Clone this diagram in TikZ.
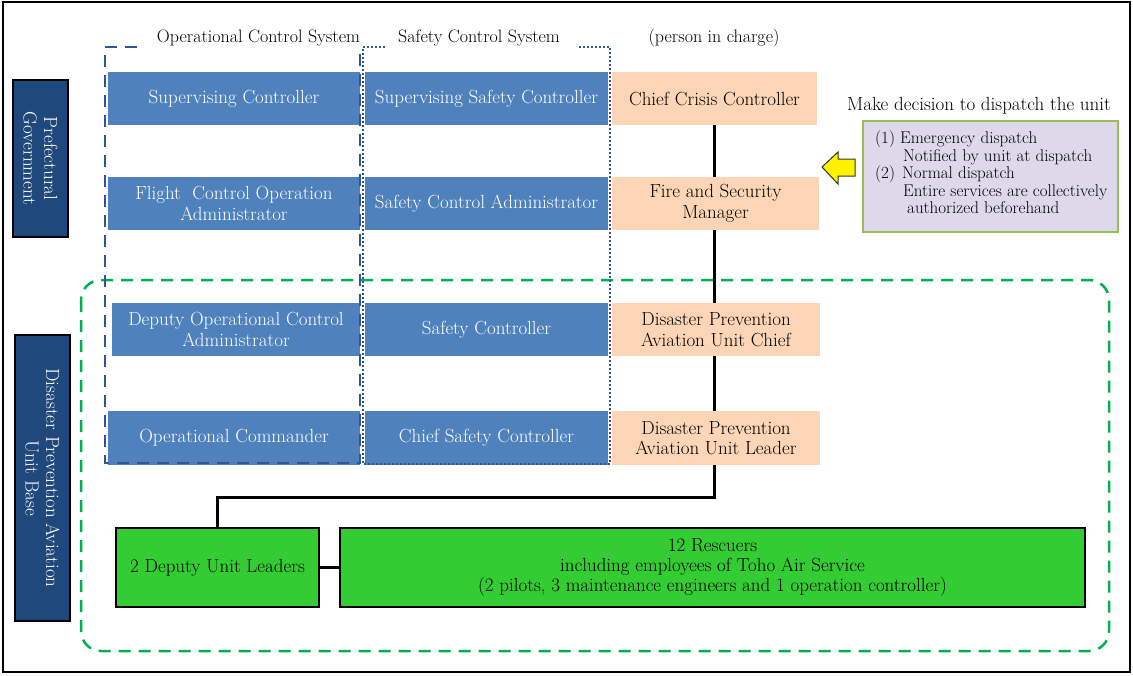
\documentclass[tikz,border=0pt]{standalone}
\usetikzlibrary{positioning}
\definecolor{bluebox}{HTML}{4F81BD}
\definecolor{orangebox}{HTML}{FBD5B5}
\definecolor{navybox}{HTML}{1F497D}
\definecolor{navyline}{HTML}{2F5597}
\definecolor{greenbox}{HTML}{33CC33}
\definecolor{greendash}{HTML}{00B050}
\definecolor{lavender}{HTML}{DDD9EB}
\definecolor{lavborder}{HTML}{9BBB59}
\tikzset{
  mainfont/.style={font=\fontsize{19}{20.5}\selectfont},
  headfont/.style={font=\fontsize{18}{20}\selectfont},
  bluecell/.style={mainfont, fill=bluebox, text=white, align=center, inner sep=0pt},
  orangecell/.style={mainfont, fill=orangebox, text=black, align=center, inner sep=0pt},
  navycell/.style={mainfont, fill=navybox, draw=black, line width=2pt, text=white, align=center, inner sep=0pt},
  greencell/.style={mainfont, fill=greenbox, draw=black, line width=2.5pt, align=center, inner sep=0pt},
  link/.style={line width=3pt, black},
  opsframe/.style={navyline, line width=2.5pt, dash pattern=on 12pt off 8pt},
  safframe/.style={navyline, line width=2.5pt, dash pattern=on 2pt off 2pt},
}
\begin{document}
\begin{tikzpicture}[x=1pt,y=-1pt]
\useasboundingbox (0,0) rectangle (1133,675);
\draw[line width=1.5pt] (3,2) rectangle (1130,672);

% green dashed unit base frame
\draw[greendash, line width=2.5pt, dash pattern=on 12pt off 8pt, rounded corners=20pt] (81,280) rectangle (1109,651);

% side labels
\node[navycell, minimum width=55pt, minimum height=157pt] (pg) at (40.5,158.5) {};
\node[mainfont, text=white, rotate=-90, align=center] (pgt) at (pg.center) {Prefectural\\Government};
\node[navycell, minimum width=55pt, minimum height=286pt] (ub) at (42.5,478) {};
\node[mainfont, text=white, rotate=-90, align=center] (ubt) at (ub.center) {Disaster Prevention Aviation\\Unit Base};

% blue column 1
\node[bluecell, minimum width=252pt, minimum height=53pt] (sc) at (234,98.5) {Supervising Controller};
\node[bluecell, minimum width=252pt, minimum height=53pt] (fco) at (234,203.5) {Flight\ \ Control Operation\\Administrator};
\node[bluecell, minimum width=248pt, minimum height=53pt] (doc) at (236,329.5) {Deputy Operational Control\\Administrator};
\node[bluecell, minimum width=252pt, minimum height=54pt] (oc) at (234,438) {Operational Commander};

% blue column 2
\node[bluecell, minimum width=243pt, minimum height=53pt] (ssc) at (486.5,98.5) {Supervising Safety Controller};
\node[bluecell, minimum width=243pt, minimum height=53pt] (sca) at (486.5,203.5) {Safety Control Administrator};
\node[bluecell, minimum width=243pt, minimum height=53pt] (sfc) at (486.5,329.5) {Safety Controller};
\node[bluecell, minimum width=243pt, minimum height=54pt] (csc) at (486.5,438) {Chief Safety Controller};

% orange column
\node[orangecell, minimum width=205pt, minimum height=53pt] (ccc) at (714.5,98.5) {Chief Crisis Controller};
\node[orangecell, minimum width=207pt, minimum height=53pt] (fsm) at (715.5,203.5) {Fire and Security\\Manager};
\node[orangecell, minimum width=208pt, minimum height=53pt] (dpc) at (716,329.5) {Disaster Prevention\\Aviation Unit Chief};
\node[orangecell, minimum width=208pt, minimum height=54pt] (dpl) at (716,438) {Disaster Prevention\\Aviation Unit Leader};

% system frames
\draw[opsframe] (137,47) -- (105,47) -- (105,463) -- (360,463) -- (360,47);
\draw[safframe] (385,47) -- (363,47) -- (363,464) -- (610,464) -- (610,47) -- (577,47);
\node[headfont] (opsh) at (258.5,38) {Operational Control System};
\node[headfont] (safh) at (479,38) {Safety Control System};
\node[headfont] (pich) at (714,38) {(person in charge)};

% green boxes
\node[greencell, minimum width=203pt, minimum height=79pt] (dul) at (217.5,567.5) {2 Deputy Unit Leaders};
\node[greencell, minimum width=745pt, minimum height=79pt, font=\fontsize{19}{20}\selectfont] (res) at (712.5,567.5) {12 Rescuers\\including employees of Toho Air Service\\(2 pilots, 3 maintenance engineers and 1 operation controller)};

% chain of command
\coordinate (corner) at (714,497);
\draw[link] (714,0 |- ccc.south) -- (714,0 |- fsm.north);
\draw[link] (714,0 |- fsm.south) -- (714,0 |- dpc.north);
\draw[link] (714,0 |- dpc.south) -- (714,0 |- dpl.north);
\draw[link] (714,0 |- dpl.south) -- (corner) -| (dul.north);
\draw[link] (dul.east) -- (res.west);

% dispatch decision
\node[mainfont, anchor=center] (mdt) at (979,106) {Make decision to dispatch the unit};
\node[draw=lavborder, line width=1.5pt, fill=lavender, minimum width=255pt, minimum height=111pt] (lav) at (990.5,176.5) {};
\node[font=\fontsize{17}{17.5}\selectfont, align=left, anchor=north west, inner sep=0pt] (lavt) at (875,131) {(1) Emergency dispatch\\
\hspace*{28pt}Notified by unit at dispatch\\
\makebox[27pt][l]{(2)}Normal dispatch\\
\hspace*{28pt}Entire services are collectively\\
\hspace*{32pt}authorized beforehand};
\draw[fill=yellow, draw=black!80, line width=1pt] (822,167) -- (838,152) -- (838,159) -- (855,159) -- (855,176) -- (838,176) -- (838,184) -- cycle;
\end{tikzpicture}
\end{document}
